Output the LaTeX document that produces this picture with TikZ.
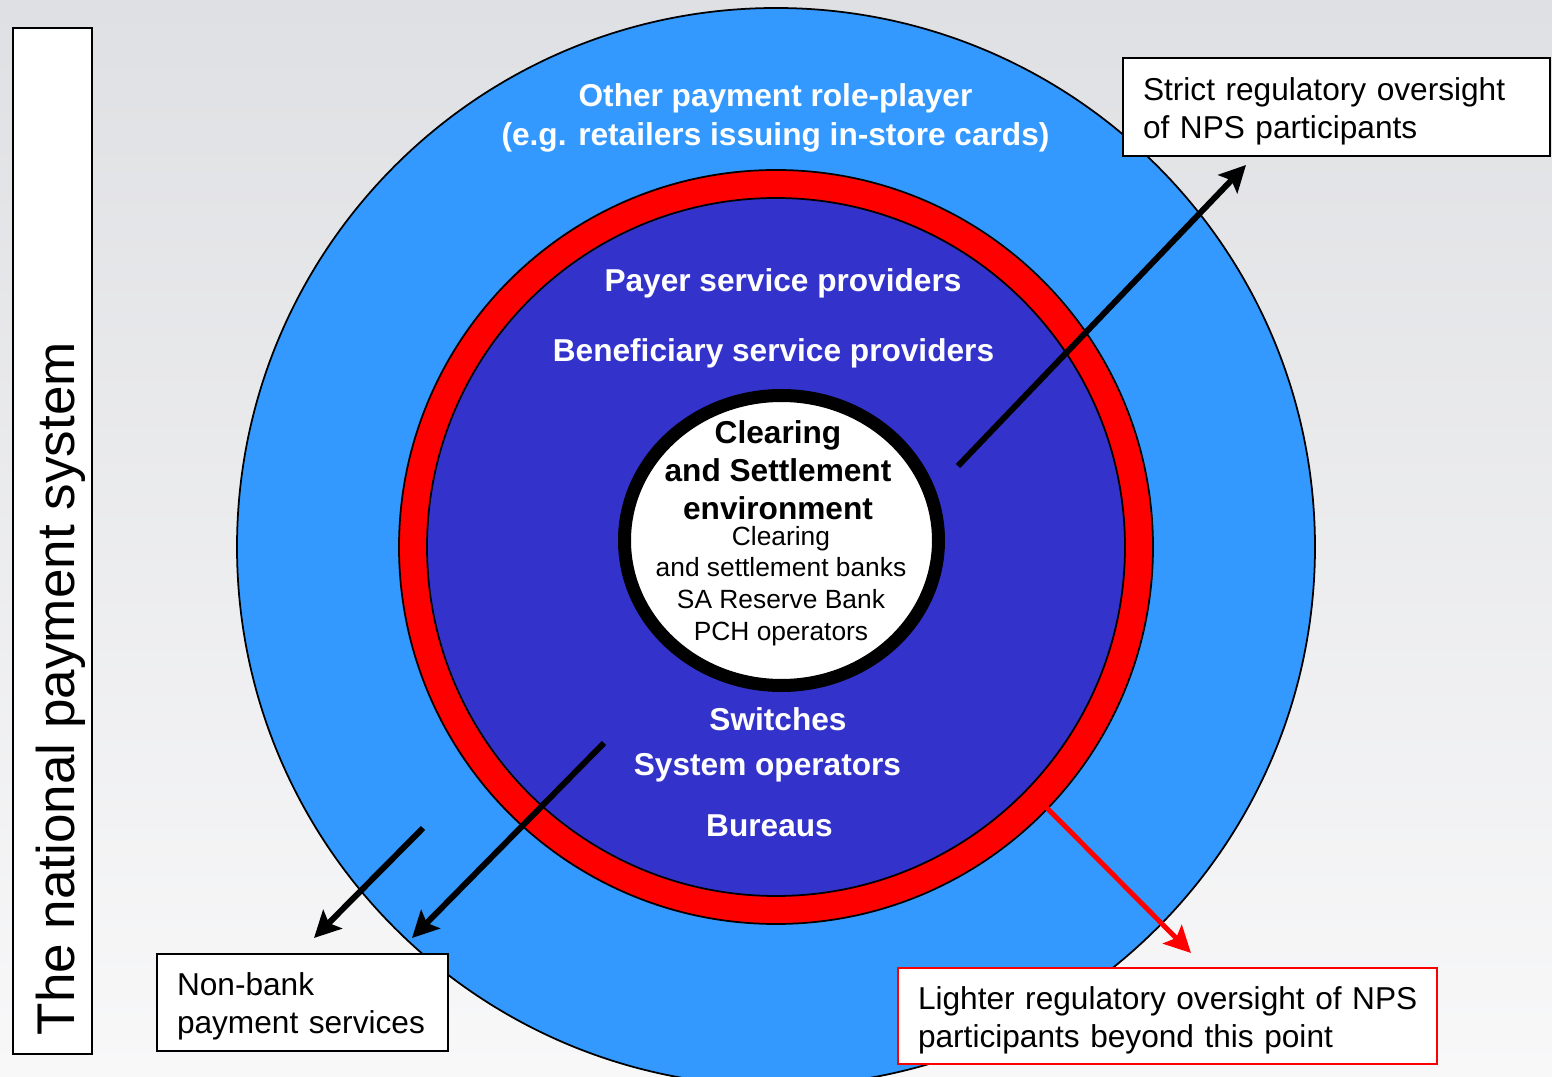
\documentclass[tikz,border=0pt]{standalone}
\usepackage{fontspec}
\setmainfont{Liberation Sans}
\usepackage{tikz}
\usetikzlibrary{arrows.meta,positioning}

\definecolor{bgtop}{RGB}{223,224,227}
\definecolor{bgbot}{RGB}{248,248,249}
\definecolor{outerblue}{RGB}{51,153,255}
\definecolor{innerblue}{RGB}{51,51,204}
\definecolor{ringred}{RGB}{255,0,0}

\begin{document}
\begin{tikzpicture}[
  ring/.style={draw=black, line width=0.5pt},
  lab/.style={font=\bfseries\fontsize{9}{11}\selectfont, text=white, inner sep=0pt, anchor=base},
  core/.style={lab, text=black},
  sub/.style={font=\fontsize{7.5}{9}\selectfont, inner sep=0pt, anchor=base},
  note/.style={draw, line width=0.6pt, fill=white, font=\fontsize{9}{10.8}\selectfont,
    align=left, inner xsep=0.2cm, inner ysep=0pt},
  arr/.style={line width=1.7pt, -{Stealth[length=7.5pt, width=7.5pt, inset=1.5pt]}}]
  \useasboundingbox (0,0) rectangle (15.52,10.76);
  \clip (0,0) rectangle (15.52,10.76);
  \shade[top color=bgtop, bottom color=bgbot] (0,0) rectangle (15.52,10.76);

  % nested rings
  \coordinate (mid) at (7.76,5.29);
  \filldraw[ring, fill=outerblue] (mid) circle (5.39);
  \filldraw[ring, fill=ringred] (mid) circle (3.77);
  \filldraw[ring, fill=innerblue] (mid) circle (3.49);
  \filldraw[line width=3.7pt, fill=white] (7.815,5.355) ellipse [x radius=1.57, y radius=1.45];

  \node[lab] (other) at (7.755,9.69) {Other payment role-player};
  \node[lab] (retail) at (7.755,9.30) {(e.g. retailers issuing in-store cards)};
  \node[lab] (payer) at (7.83,7.84) {Payer service providers};
  \node[lab] (benef) at (7.735,7.14) {Beneficiary service providers};
  \node[lab] (switch) at (7.78,3.45) {Switches};
  \node[lab] (sysop) at (7.675,3.00) {System operators};
  \node[lab] (bureau) at (7.695,2.40) {Bureaus};

  \foreach \y/\t [count=\i] in {6.32/Clearing, 5.94/and Settlement, 5.56/environment}
    \node[core] (env\i) at (7.78,\y) {\t};
  \foreach \y/\t [count=\i] in {5.30/Clearing, 4.99/and settlement banks,
      4.67/SA Reserve Bank, 4.35/PCH operators}
    \node[sub] (member\i) at (7.81,\y) {\t};

  % side notes
  \node[note, minimum width=0.79cm, minimum height=10.26cm] (frame) at (0.525,5.35) {};
  \node[rotate=90, anchor=base west, inner sep=0pt, font=\fontsize{15.1}{18}\selectfont]
    (title) at (0.74,0.40) {The national payment system};
  \node[note, text width=3.87cm, minimum height=0.98cm] (strict) at (13.365,9.69)
    {\rule{0pt}{8.8pt}Strict regulatory oversight\\of NPS participants};
  \node[note, text width=2.51cm, minimum height=0.97cm] (nonbank) at (3.025,0.735)
    {\rule{0pt}{8.8pt}Non-bank\\payment services};
  \node[note, draw=ringred, line width=0.8pt, text width=4.99cm, minimum height=0.96cm]
    (lighter) at (11.675,0.60)
    {\rule{0pt}{8.8pt}\mbox{Lighter regulatory oversight of NPS}\\participants beyond this point};

  \coordinate (s0) at (9.58,6.10);
  \coordinate (s1) at (12.46,9.11);
  \coordinate (n0) at (6.04,3.33);
  \coordinate (n1) at (4.12,1.38);
  \coordinate (m0) at (4.23,2.48);
  \coordinate (m1) at (3.14,1.38);
  \coordinate (r0) at (10.45,2.70);
  \coordinate (r1) at (11.91,1.23);
  \draw[arr] (s0) -- (s1);
  \draw[arr] (n0) -- (n1);
  \draw[arr] (m0) -- (m1);
  \draw[arr, ringred, line width=1.4pt] (r0) -- (r1);
\end{tikzpicture}
\end{document}
